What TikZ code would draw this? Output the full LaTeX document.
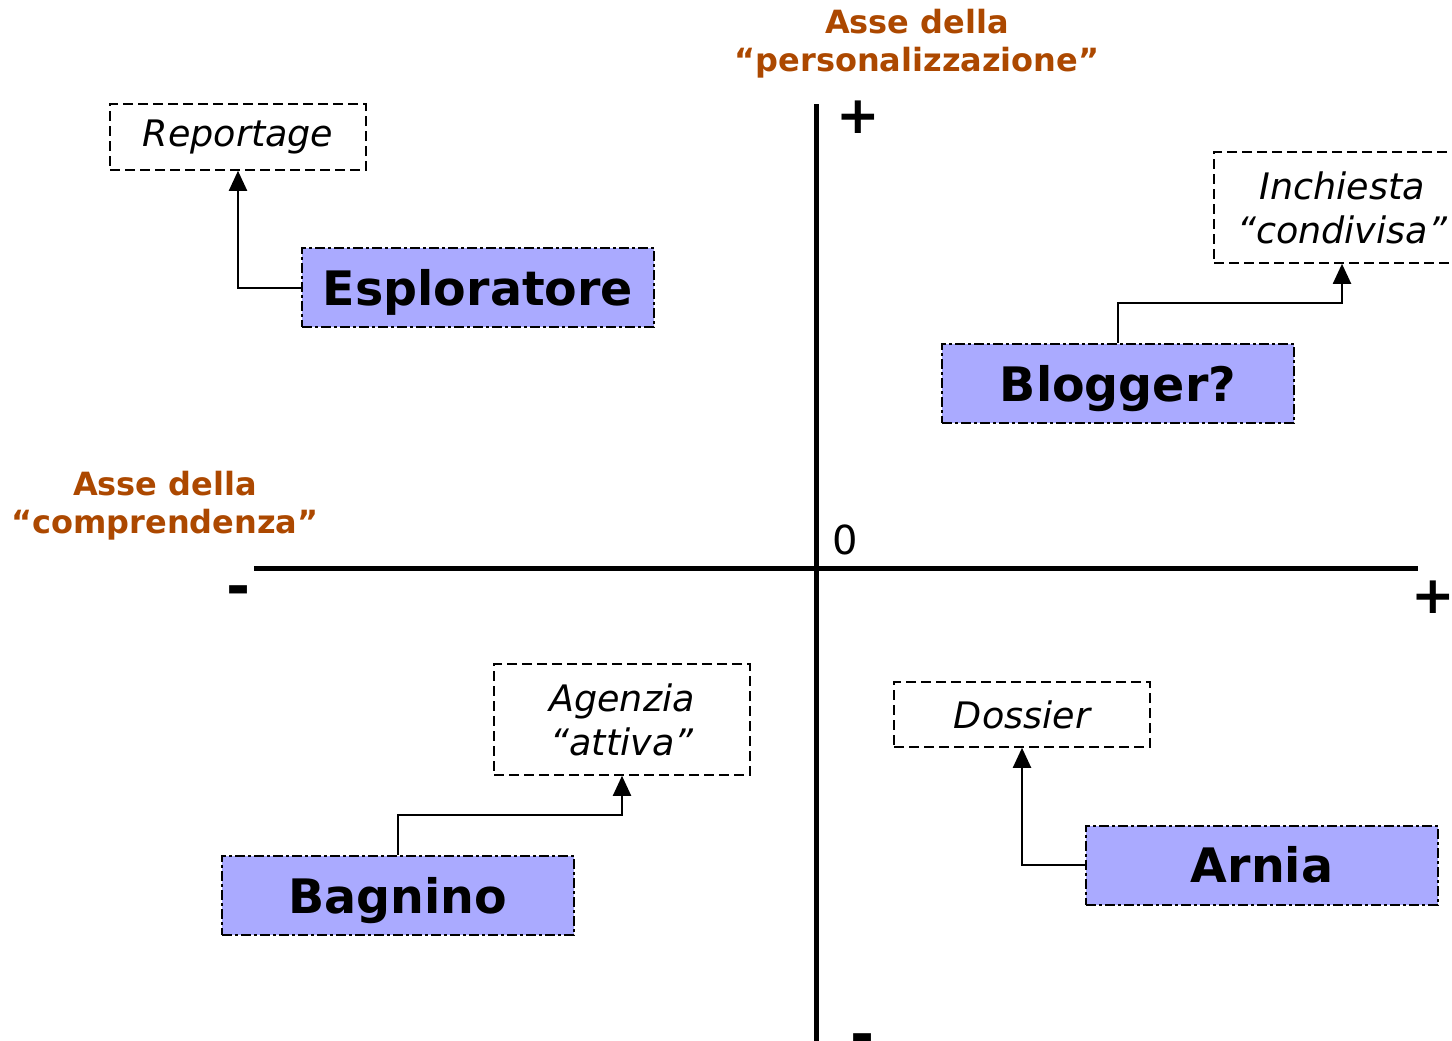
\documentclass[tikz,border=0pt]{standalone}
\usepackage{fontspec}
\setmainfont{DejaVu Sans}
\usetikzlibrary{arrows.meta}
\definecolor{assecol}{RGB}{172,72,0}
\definecolor{ruolocol}{RGB}{170,170,255}
\tikzset{
  ruolo/.style={draw, fill=ruolocol, line width=2pt, dash pattern=on 10pt off 3pt on 3pt off 3pt,
    minimum width=352pt, minimum height=79pt, inner sep=0pt, text height=35pt, text depth=0pt,
    font=\fontsize{47.5}{56}\selectfont\bfseries},
  genere/.style={draw, line width=1.6pt, dash pattern=on 10pt off 5pt, minimum width=256pt,
    inner sep=0pt, align=center, font=\fontsize{36.5}{44}\selectfont\itshape},
  asse/.style={text=assecol, align=center, font=\fontsize{32}{38}\selectfont\bfseries},
  segno/.style={inner sep=0pt, font=\fontsize{52}{60}\selectfont\bfseries},
  segnomeno/.style={inner sep=0pt, font=\fontsize{58}{60}\selectfont\bfseries},
  freccia/.style={line width=2pt, -{Triangle[width=18pt,length=20pt]}}
}

\begin{document}
\begin{tikzpicture}[x=1pt, y=-1pt]
    \useasboundingbox (0,0) rectangle (1452,1041);

    % Draw axes
    \draw[line width=5pt] (254,568) -- (1418,568);
    \draw[line width=5pt] (816,104) -- (816,1041);

    % Axis labels
    \node[asse] (assep) at (917,44) {Asse della\\“personalizzazione”};
    \node[asse] (assec) at (165,506) {Asse della\\“comprendenza”};
    \node[font=\fontsize{40}{48}\selectfont] (zero) at (845,540) {0};

    % Mark plus and minus
    \node[segno] (piuy) at (858,117) {+};
    \node[segno] (piux) at (1433,597) {+};
    \node[segnomeno] (menox) at (239,596) {-};
    \node[segnomeno] (menoy) at (863,1044) {-};

    % Kinds of news
    \node[genere, minimum height=66pt] (reportage) at (238,137) {Reportage};
    \node[genere, minimum height=111pt] (inchiesta) at (1342,207.5) {Inchiesta\\“condivisa”};
    \node[genere, minimum height=111pt] (agenzia) at (622,719.5) {Agenzia\\“attiva”};
    \node[genere, minimum height=65pt] (dossier) at (1022,714.5) {Dossier};

    % Roles
    \node[ruolo] (esploratore) at (478,287.5) {Esploratore};
    \node[ruolo] (blogger) at (1118,383.5) {Blogger?};
    \node[ruolo] (bagnino) at (398,895.5) {Bagnino};
    \node[ruolo] (arnia) at (1262,865) {Arnia};

    % Connectors
    \coordinate (gomitob) at (1118,303);
    \coordinate (gomitoa) at (398,815);
    \draw[freccia] (esploratore.west) -| (reportage.south);
    \draw[freccia] (blogger.north) -- (gomitob) -| (inchiesta.south);
    \draw[freccia] (bagnino.north) -- (gomitoa) -| (agenzia.south);
    \draw[freccia] (arnia.west) -| (dossier.south);
\end{tikzpicture}
\end{document}
